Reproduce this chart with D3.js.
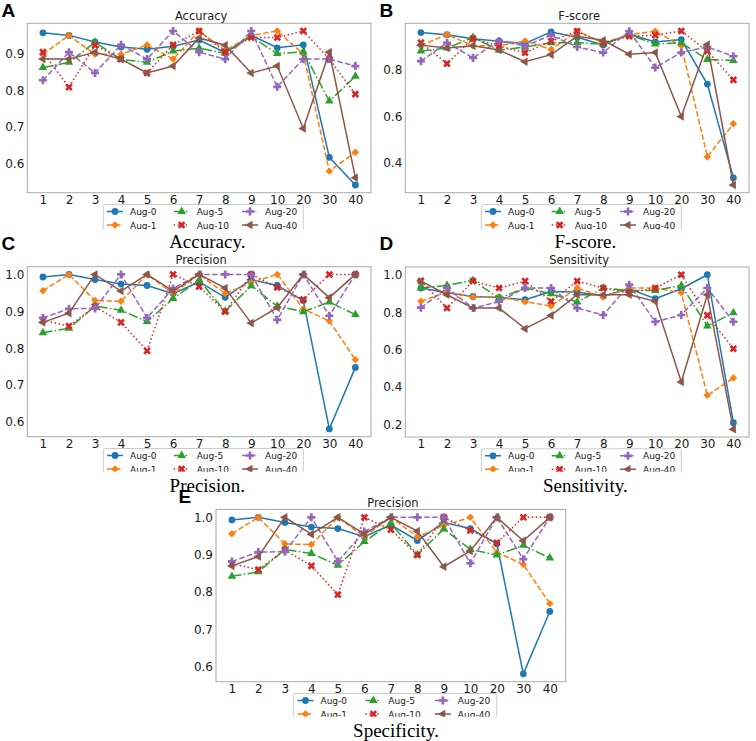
<!DOCTYPE html>
<html><head><meta charset="utf-8">
<script src="https://cdn.jsdelivr.net/npm/d3@7"></script>
<style>body{margin:0;background:#fff}svg{display:block}</style>
</head><body><svg id="c" width="756" height="741"></svg>
<script>
const xLabels = ["1","2","3","4","5","6","7","8","9","10","20","30","40"];
const seriesNames = ["Aug-0","Aug-1","Aug-5","Aug-10","Aug-20","Aug-40"];
const seriesColors = ["#1f77b4","#ff7f0e","#2ca02c","#d62728","#9467bd","#8c564b"];

const accuracyValues = [
  [0.958,0.951,0.933,0.919,0.913,0.921,0.938,0.904,0.951,0.917,0.925,0.617,0.541],
  [0.899,0.951,0.899,0.899,0.925,0.886,0.963,0.910,0.951,0.963,0.900,0.579,0.631],
  [0.863,0.877,0.932,0.885,0.877,0.908,0.916,0.902,0.948,0.901,0.906,0.771,0.839],
  [0.905,0.809,0.924,0.886,0.848,0.925,0.963,0.905,0.945,0.945,0.963,0.886,0.790],
  [0.828,0.905,0.848,0.925,0.886,0.963,0.905,0.886,0.963,0.810,0.886,0.886,0.867],
  [0.886,0.886,0.905,0.886,0.848,0.867,0.944,0.924,0.848,0.867,0.696,0.905,0.561]
];
const fscoreValues = [
  [0.962,0.953,0.936,0.925,0.915,0.965,0.942,0.909,0.956,0.922,0.932,0.740,0.335],
  [0.906,0.954,0.905,0.905,0.926,0.889,0.968,0.918,0.953,0.968,0.905,0.426,0.568],
  [0.883,0.895,0.941,0.886,0.900,0.918,0.918,0.913,0.952,0.913,0.918,0.846,0.842],
  [0.919,0.828,0.936,0.904,0.875,0.925,0.968,0.918,0.946,0.951,0.969,0.882,0.758],
  [0.839,0.918,0.853,0.926,0.905,0.950,0.900,0.876,0.968,0.811,0.876,0.900,0.860],
  [0.908,0.896,0.905,0.887,0.836,0.867,0.946,0.929,0.869,0.876,0.600,0.910,0.304]
];
const precisionValues = [
  [0.993,1.000,0.986,0.974,0.970,0.948,0.980,0.938,0.986,0.970,0.929,0.581,0.748],
  [0.956,1.000,0.929,0.927,1.000,0.948,1.000,0.948,0.978,1.000,0.906,0.874,0.769],
  [0.842,0.854,0.914,0.903,0.872,0.935,0.984,0.900,0.969,0.914,0.899,0.925,0.891],
  [0.876,0.860,0.913,0.870,0.793,1.000,0.967,0.899,1.000,0.965,0.932,1.000,1.000],
  [0.882,0.907,0.908,1.000,0.882,0.962,1.000,1.000,1.000,0.877,1.000,0.888,1.000],
  [0.870,0.895,1.000,0.955,1.000,0.955,1.000,0.963,0.868,0.910,1.000,0.937,1.000]
];
const sensitivityValues = [
  [0.929,0.904,0.884,0.879,0.867,0.910,0.908,0.886,0.925,0.872,0.925,1.000,0.210],
  [0.858,0.908,0.881,0.881,0.856,0.833,0.929,0.881,0.929,0.929,0.904,0.356,0.449],
  [0.929,0.943,0.970,0.874,0.929,0.899,0.854,0.929,0.916,0.916,0.943,0.726,0.797],
  [0.966,0.822,0.966,0.929,0.966,0.858,0.966,0.929,0.904,0.929,1.000,0.783,0.605],
  [0.824,0.929,0.822,0.856,0.929,0.929,0.822,0.785,0.947,0.749,0.785,0.929,0.749],
  [0.966,0.893,0.822,0.822,0.712,0.783,0.893,0.893,0.893,0.858,0.428,0.893,0.175]
];

const accuracyTicks = [0.6,0.7,0.8,0.9];
const fscoreTicks = [0.4,0.6,0.8];
const precisionTicks = [0.6,0.7,0.8,0.9,1.0];
const sensitivityTicks = [0.2,0.4,0.6,0.8,1.0];

const dashes = [null,"5.5,2.4","9.6,2.4,1.5,2.4","1.5,2.5","5.5,2.4",null];
const markers = [
  {t:d3.symbolCircle, s:36, r:0},
  {t:d3.symbolSquare, s:28, r:45},
  {t:d3.symbolTriangle, s:32, r:0},
  {t:d3.symbolCross, s:36, r:45},
  {t:d3.symbolCross, s:36, r:0},
  {t:d3.symbolTriangle, s:32, r:-90}
];

const svg = d3.select("#c");
const defs = svg.append("defs");
const sansFont = "DejaVu Sans, sans-serif";

const panels = [
  {id:"A", title:"Accuracy", caption:"Accuracy.", values:accuracyValues, ticks:accuracyTicks,
   left:27.3, top:23.3, w:343.7, h:169.4, lx:1.5, ly:16.7, clipY:229.5},
  {id:"B", title:"F-score", caption:"F-score.", values:fscoreValues, ticks:fscoreTicks,
   left:405.3, top:23.3, w:343.7, h:169.4, lx:379.5, ly:16.7, clipY:229.5},
  {id:"C", title:"Precision", caption:"Precision.", values:precisionValues, ticks:precisionTicks,
   left:27.3, top:266.7, w:343.7, h:170, lx:1.5, ly:250, clipY:471.7},
  {id:"D", title:"Sensitivity", caption:"Sensitivity.", values:sensitivityValues, ticks:sensitivityTicks,
   left:405.3, top:267, w:343.7, h:170, lx:379.5, ly:250, clipY:471.7},
  {id:"E", title:"Precision", caption:"Specificity.", values:precisionValues, ticks:precisionTicks,
   left:216, top:509.5, w:349.7, h:172.2, lx:178.5, ly:503, clipY:716.7}
];

function sym(m){ return d3.symbol(m.t, m.s)(); }

panels.forEach((p, pi) => {
  const g = svg.append("g");
  const x = d3.scalePoint().domain(xLabels).range([p.left, p.left + p.w]).padding(0.6);
  const all = p.values.flat();
  const mn = d3.min(all), mx = d3.max(all), mg = (mx - mn) * 0.05;
  const y = d3.scaleLinear().domain([mn - mg, mx + mg]).range([p.top + p.h, p.top]);

  // axes
  const ya = g.append("g").attr("transform", `translate(${p.left},0)`)
    .call(d3.axisLeft(y).tickValues(p.ticks).tickFormat(d3.format(".1f")).tickSize(0).tickPadding(3));
  const xa = g.append("g").attr("transform", `translate(0,${p.top + p.h})`)
    .call(d3.axisBottom(x).tickSize(0).tickPadding(2.5));
  [ya, xa].forEach(a => {
    a.select(".domain").remove();
    a.selectAll("text").attr("font-family", sansFont).attr("font-size", "12px").attr("fill", "#1a1a1a");
  });

  // series
  const line = d3.line().x((d, i) => x(xLabels[i])).y(d => y(d));
  p.values.forEach((vals, si) => {
    const sg = g.append("g");
    sg.append("path").attr("d", line(vals)).attr("fill", "none")
      .attr("stroke", seriesColors[si]).attr("stroke-width", 1.5)
      .attr("stroke-dasharray", dashes[si]);
    sg.selectAll("path.m").data(vals).join("path").attr("class", "m")
      .attr("d", sym(markers[si]))
      .attr("transform", (d, i) => `translate(${x(xLabels[i])},${y(d)}) rotate(${markers[si].r})`)
      .attr("fill", seriesColors[si]);
  });

  // frame
  g.append("rect").attr("x", p.left).attr("y", p.top).attr("width", p.w).attr("height", p.h)
    .attr("fill", "none").attr("stroke", "#aaaaaa").attr("stroke-width", 1);

  // title
  g.append("text").attr("x", p.left + p.w / 2 + 2).attr("y", p.top - 3).attr("text-anchor", "middle")
    .attr("font-family", sansFont).attr("font-size", "11.5px").attr("fill", "#1a1a1a").text(p.title);

  // panel letter
  g.append("text").attr("x", p.lx).attr("y", p.ly).attr("font-family", "Liberation Sans, Arial, sans-serif")
    .attr("font-weight", "bold").attr("font-size", "19px").attr("fill", "#000").text(p.id);

  // caption
  g.append("text").attr("x", p.left + 180).attr("y", p.top + p.h + 55.3).attr("text-anchor", "middle")
    .attr("font-family", "Liberation Serif, Times New Roman, serif").attr("font-size", "19px")
    .attr("fill", "#000").text(p.caption);

  // legend (clipped at bottom as in the reference)
  const sc = p.w / 343.7;
  const lgLeft = p.left + 76 * sc, lgTop = p.top + p.h + 11.8, lgW = 200 * sc;
  defs.append("clipPath").attr("id", "clip" + pi).append("rect")
    .attr("x", lgLeft - 5).attr("y", lgTop - 5).attr("width", lgW + 10).attr("height", p.clipY - lgTop + 5);
  const lg = g.append("g").attr("clip-path", `url(#clip${pi})`);
  lg.append("rect").attr("x", lgLeft).attr("y", lgTop).attr("width", lgW).attr("height", 34)
    .attr("rx", 2).attr("fill", "#fff").attr("fill-opacity", 0.8).attr("stroke", "#cccccc").attr("stroke-width", 1);
  const colText = [26.7, 93.4, 161.7];
  seriesNames.forEach((name, si) => {
    const col = Math.floor(si / 2), row = si % 2;
    const tx = lgLeft + colText[col] * sc;
    const cy = lgTop + 7 + row * 13.5;
    const x0 = tx - 23, x1 = tx - 7;
    lg.append("line").attr("x1", x0).attr("x2", x1).attr("y1", cy).attr("y2", cy)
      .attr("stroke", seriesColors[si]).attr("stroke-width", 1.5).attr("stroke-dasharray", dashes[si]);
    lg.append("path").attr("d", sym(markers[si]))
      .attr("transform", `translate(${(x0 + x1) / 2},${cy}) rotate(${markers[si].r})`)
      .attr("fill", seriesColors[si]);
    lg.append("text").attr("x", tx).attr("y", cy + 3.5).attr("font-family", sansFont)
      .attr("font-size", "9px").attr("fill", "#1a1a1a").text(name);
  });
});
</script>
</body></html>
